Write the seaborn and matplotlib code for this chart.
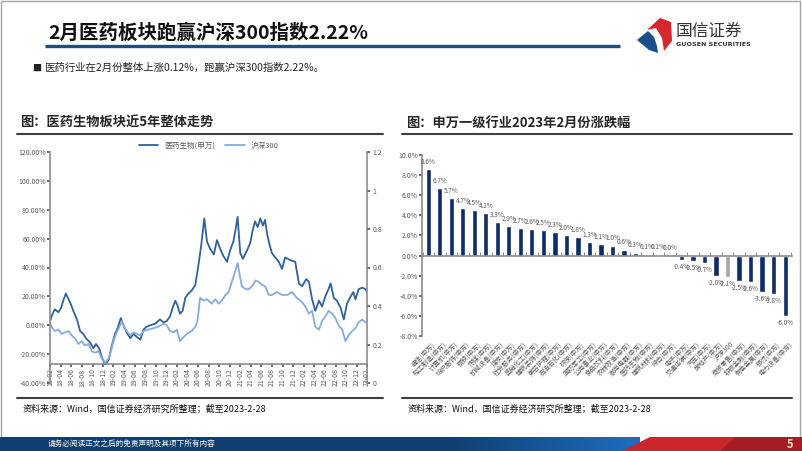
import numpy as np
import pandas as pd
import matplotlib
matplotlib.use("Agg")
import matplotlib.pyplot as plt
import matplotlib.transforms as mtransforms
from matplotlib.patches import Polygon, Rectangle
import seaborn as sns

# =====================================================================
# DATA
# =====================================================================
# left chart: cumulative change (%), x = months after 2018-02-28
PHARMA_MONTH = [0, 0.5, 0.9, 1.6, 2.1, 2.5, 3.0, 3.5, 3.9, 4.4,
                5.1, 5.7, 6.3, 6.8, 7.6, 8.2, 8.7, 9.3, 9.8, 10.4,
                11.1, 11.7, 12.3, 12.8, 13.4, 13.9, 14.5, 15.2, 15.8, 16.4,
                17.1, 17.7, 18.3, 19.0, 19.9, 20.8, 21.5, 22.1, 22.7, 23.2,
                23.7, 24.1, 24.6, 25.1, 25.6, 26.2, 26.8, 27.5, 28.1, 28.6,
                29.2, 29.7, 30.3, 31.0, 31.6, 32.2, 32.8, 33.5, 34.1, 34.7,
                35.1, 35.5, 36.0, 36.5, 37.3, 37.9, 38.3, 38.8, 39.3, 39.8,
                40.3, 40.7, 41.1, 41.6, 42.0, 42.6, 43.3, 43.9, 44.5, 45.5,
                46.4, 47.1, 47.7, 48.5, 49.0, 49.6, 50.2, 50.9, 51.5, 52.1,
                52.7, 53.1, 53.7, 54.3, 55.0, 55.6, 56.2, 56.9, 57.4, 57.8,
                58.4, 59.1, 59.7, 60.0]
PHARMA_PCT = [3, 8, 11, 9, 12, 17, 22, 18, 15, 10,
              4, -4, -6, -9, -12, -16, -13, -16, -22, -27,
              -24, -14, -6, -2, 5, 0, -5, -9, -6, -8,
              -10, -3, -1, 0, 1, 4, 2, 3, 6, 12,
              17, 14, 8, 10, 19, 22, 24, 28, 42, 55,
              74, 58, 53, 49, 59, 53, 48, 44, 52, 58,
              66, 75, 50, 46, 52, 57, 65, 72, 68, 74,
              69, 73, 63, 55, 50, 47, 44, 39, 47, 45,
              44, 29, 27, 32, 30, 18, 10, 17, 13, 20,
              25, 29, 19, 17, 12, 4, 15, 20, 23, 18,
              25, 26, 25, 23]

HS300_MONTH = [0, 0.5, 0.9, 1.6, 2.2, 2.8, 3.5, 4.1, 4.7, 5.4,
               6.0, 6.6, 7.3, 7.9, 8.5, 9.2, 9.8, 10.4, 11.1, 11.6,
               12.0, 12.6, 13.3, 13.6, 14.0, 14.5, 15.2, 15.8, 16.4, 17.1,
               17.7, 18.6, 19.6, 20.5, 21.5, 22.1, 22.7, 23.4, 24.0, 24.6,
               25.3, 25.9, 26.8, 27.5, 27.9, 28.4, 29.1, 29.7, 30.6, 31.3,
               31.9, 32.5, 33.2, 33.8, 34.4, 35.1, 35.5, 35.9, 36.3, 37.0,
               37.6, 38.2, 38.9, 39.5, 40.1, 40.7, 41.4, 42.0, 42.9, 43.9,
               44.9, 45.8, 46.7, 47.7, 48.3, 49.0, 49.6, 50.2, 50.9, 51.5,
               52.1, 52.7, 53.4, 54.0, 54.6, 55.3, 55.9, 56.5, 57.2, 57.8,
               58.4, 59.1, 59.7, 60.0]
HS300_PCT = [1, -2, -4, -3, -6, -5, -4, -7, -9, -13,
             -11, -14, -13, -18, -19, -18, -23, -26, -23, -17,
             -11, -5, 0, 3, -1, -4, -7, -5, -6, -7,
             -4, -3, -2, -1, 1, 0, -4, -5, -3, -11,
             -8, -6, -4, -1, 3, 19, 17, 18, 15, 18,
             15, 17, 21, 23, 30, 38, 43, 35, 27, 25,
             25, 27, 31, 30, 28, 27, 21, 21, 23, 21,
             21, 23, 19, 16, 13, 8, 10, -1, -3, 3,
             6, 10, 8, 5, 0, -3, -11, -7, -4, -2,
             2, 4, 2, 2]

# right chart: Shenwan level-1 industries, Feb 2023 change (%)
INDUSTRIES = ["通信(申万)", "轻工制造(申万)", "计算机(申万)", "纺织服饰(申万)",
              "钢铁(申万)", "传媒(申万)", "机械设备(申万)", "煤炭(申万)",
              "社会服务(申万)", "基础化工(申万)", "建筑装饰(申万)", "美容护理(申万)",
              "石油石化(申万)", "环保(申万)", "国防军工(申万)", "公用事业(申万)",
              "食品饮料(申万)", "农林牧渔(申万)", "家用电器(申万)", "医药生物(申万)",
              "建筑材料(申万)", "综合(申万)", "电子(申万)", "交通运输(申万)",
              "汽车(申万)", "房地产(申万)", "沪深300", "商贸零售(申万)",
              "非银金融(申万)", "有色金属(申万)", "银行(申万)", "电力设备(申万)"]
FEB_CHANGE = [8.6, 6.7, 5.7, 4.7, 4.5, 4.2, 3.3, 2.9, 2.7, 2.6, 2.5, 2.3,
              2.0, 1.8, 1.3, 1.1, 1.0, 0.6, 0.3, 0.1, 0.1, 0.0,
              -0.4, -0.5, -0.7, -2.0, -2.1, -2.5, -2.6, -3.6, -3.8, -6.0]

# =====================================================================
# STYLE
# =====================================================================
sns.set_theme(style="white")
plt.rcParams['font.family'] = ['Noto Sans CJK SC', 'DejaVu Sans']
plt.rcParams['axes.unicode_minus'] = False

DARK = "#2F6299"
LIGHT = "#86ACDB"
NAVY = "#0C2D66"
GREY_TXT = "#595959"
GREY_AX = "#8C8C8C"

W, H = 802, 451
fig = plt.figure(figsize=(W / 100, H / 100), dpi=100)


def rect(x0, y0, x1, y1):
    # pixel box (y down) -> figure fraction
    return [x0 / W, 1 - y1 / H, (x1 - x0) / W, (y1 - y0) / H]


# ---------------------------------------------------------------------
# slide background / decorations
# ---------------------------------------------------------------------
bg = fig.add_axes([0, 0, 1, 1])
bg.set_xlim(0, W)
bg.set_ylim(H, 0)
bg.axis('off')

bg.add_patch(Rectangle((1, 1), W - 3, H - 3, fill=False, ec='#A6A6A6', lw=1))

bg.text(48, 33, "2月医药板块跑赢沪深300指数2.22%", fontsize=14, fontweight='bold',
        va='center', color='#111111')
bg.plot([45, 620], [46, 46], color='#1F4E79', lw=2.4, solid_capstyle='butt')
bg.text(32, 68, "■", fontsize=6.5, va='center', color='#222222')
bg.text(44, 68, "医药行业在2月份整体上涨0.12%，跑赢沪深300指数2.22%。", fontsize=7.5,
        va='center', color='#222222')

# logo
bg.add_patch(Polygon([(647, 30), (660, 18), (671, 22), (672, 41), (664, 51),
                      (662, 38), (656, 28)], closed=True, color='#D7272E', lw=0))
bg.add_patch(Polygon([(637, 40), (648, 31), (654, 37), (657, 46), (658, 53),
                      (649, 50)], closed=True, color='#1B4F8C', lw=0))
bg.text(676, 31, "国信证券", fontsize=12, va='center', color='#333333')
bg.text(676, 45, "GUOSEN SECURITIES", fontsize=4.6, va='center', color='#333333',
        fontweight='bold', family='DejaVu Sans')

# panel titles and rules
bg.text(20, 123, "图：医药生物板块近5年整体走势", fontsize=9.5, fontweight='bold', va='center')
bg.text(406, 123, "图：申万一级行业2023年2月份涨跌幅", fontsize=9.5, fontweight='bold', va='center')
for x0, x1 in [(17, 383), (402, 792)]:
    bg.plot([x0, x1], [134, 134], color='#404040', lw=1.5)
    bg.plot([x0, x1], [398, 398], color='#404040', lw=1.5)
src = "资料来源：Wind，国信证券经济研究所整理；截至2023-2-28"
bg.text(23, 409, src, fontsize=6.5, va='center', color='#111111')
bg.text(408, 409, src, fontsize=6.5, va='center', color='#111111')

# footer band
grad = np.linspace(0, 1, 256)
c0 = np.array([15, 62, 112]) / 255
c1 = np.array([30, 110, 192]) / 255
ramp = np.clip((grad - 0.7) / 0.3, 0, 1)[:, None]
band = (c0 * (1 - ramp) + c1 * ramp)[None, :, :]
bg.imshow(band, extent=[0, 640, H, 437], aspect='auto', zorder=1)
bg.add_patch(Polygon([(622, H), (650, 437), (W, 437), (W, H)], closed=True,
                     color='#C9252C', lw=0, zorder=2))
bg.add_patch(Polygon([(720, H), (735, 437), (W, 437), (W, H)], closed=True,
                     color='#A61E24', lw=0, zorder=2))
bg.text(48, 444, "请务必阅读正文之后的免责声明及其项下所有内容", fontsize=5.5,
        color='white', va='center', zorder=3)
bg.text(790, 444, "5", fontsize=8, color='#F3E3C3', fontweight='bold',
        ha='center', va='center', zorder=3)
bg.set_xlim(0, W)
bg.set_ylim(H, 0)

# =====================================================================
# LEFT: pharma vs HS300
# =====================================================================
base = pd.Timestamp("2018-02-28")
pharma_dates = base + pd.to_timedelta(np.array(PHARMA_MONTH) * 30.44, unit='D')
hs_dates = base + pd.to_timedelta(np.array(HS300_MONTH) * 30.44, unit='D')

ax = fig.add_axes(rect(50, 152, 367, 383))
sns.lineplot(x=pharma_dates, y=PHARMA_PCT, color=DARK, lw=1.3,
             label="医药生物(申万)", ax=ax)
sns.lineplot(x=hs_dates, y=HS300_PCT, color=LIGHT, lw=1.3, label="沪深300", ax=ax)

ax.set_ylim(-40, 120)
yt = list(range(-40, 121, 20))
ax.set_yticks(yt, labels=[f"{v:.2f}%" for v in yt])
ticks = pd.date_range("2018-02-28", "2023-02-28", freq="2ME")
ax.set_xticks(ticks, labels=[t.strftime("%y-%m") for t in ticks])
ax.set_xlim(ticks[0], ticks[-1])
ax.set_xlabel("")
ax.set_ylabel("")
ax.spines['bottom'].set_position(('data', -27))
for s in ['top', 'right']:
    ax.spines[s].set_visible(False)
for s in ['left', 'bottom']:
    ax.spines[s].set_color(GREY_AX)
    ax.spines[s].set_linewidth(1.2)
ax.tick_params(axis='x', labelsize=5, colors=GREY_TXT, labelrotation=90,
               length=2, pad=1, bottom=True)
ax.tick_params(axis='y', labelsize=5, colors=GREY_TXT, length=2, pad=1, left=True)
ax.set_facecolor('none')
ax.legend(loc='upper center', bbox_to_anchor=(0.5, 1.075), ncol=2, frameon=False,
          fontsize=5.5, handlelength=2.6, columnspacing=1.2, labelcolor=GREY_TXT)

ax2 = ax.twinx()
ax2.set_ylim(0, 1.2)
rt = [0, 0.2, 0.4, 0.6, 0.8, 1.0, 1.2]
ax2.set_yticks(rt, labels=["0", "0.2", "0.4", "0.6", "0.8", "1", "1.2"])
for s in ['top', 'left', 'bottom']:
    ax2.spines[s].set_visible(False)
ax2.spines['right'].set_color(GREY_AX)
ax2.spines['right'].set_linewidth(1.2)
ax2.tick_params(axis='y', labelsize=5, colors=GREY_TXT, length=2, pad=2, right=True)
ax2.grid(False)

# =====================================================================
# RIGHT: industry bars
# =====================================================================
axb = fig.add_axes(rect(422, 155, 792, 336))
bar_colors = ['#A6A6A6' if c == "沪深300" else NAVY for c in INDUSTRIES]
sns.barplot(x=INDUSTRIES, y=FEB_CHANGE, hue=INDUSTRIES, palette=bar_colors,
            legend=False, width=0.45, saturation=1, ax=axb)
axb.set_ylim(-8, 10)
axb.set_xlim(-0.55, 31.6)
bt = list(range(-8, 11, 2))
axb.set_yticks(bt, labels=[f"{v:.1f}%" for v in bt])
axb.set_xticks([i - 0.5 for i in range(33)], labels=[])
axb.set_xlabel("")
axb.set_ylabel("")
axb.spines['bottom'].set_position(('data', 0))
for s in ['top', 'right']:
    axb.spines[s].set_visible(False)
for s in ['left', 'bottom']:
    axb.spines[s].set_color(GREY_AX)
    axb.spines[s].set_linewidth(1.2)
axb.tick_params(axis='x', direction='in', length=3, width=0.8, colors=GREY_AX, bottom=True)
axb.tick_params(axis='y', labelsize=5, colors=GREY_TXT, length=2, pad=1, left=True)
axb.set_facecolor('none')

for i, v in enumerate(FEB_CHANGE):
    axb.annotate(f"{v:.1f}%", (i, v), xytext=(0, 2.5 if v >= 0 else -2.5),
                 textcoords='offset points', ha='center',
                 va='bottom' if v >= 0 else 'top', fontsize=4.6, color=GREY_TXT)

trans = mtransforms.blended_transform_factory(axb.transData, axb.transAxes)
for i, name in enumerate(INDUSTRIES):
    axb.text(i + 0.25, -0.025, name, transform=trans, rotation=45, ha='right',
             va='top', rotation_mode='anchor', fontsize=4.8, color=GREY_TXT)

fig.savefig("out.png", dpi=100)
